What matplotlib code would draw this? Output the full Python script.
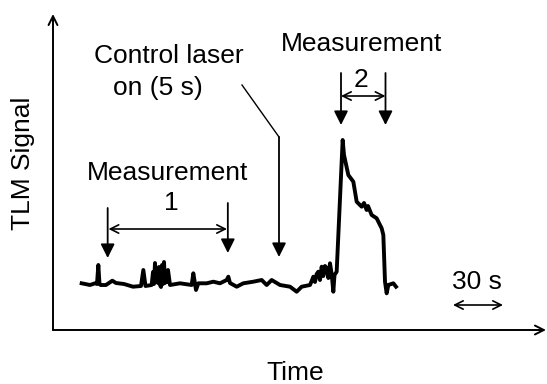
import matplotlib
matplotlib.use("Agg")
import matplotlib.pyplot as plt

plt.rcParams["font.family"] = ["Liberation Sans", "DejaVu Sans"]

# trace: tiempo (s) y señal TLM (unidades arbitrarias)
tiempo = [17.2, 22.2, 25.2, 26.4, 27.2, 27.9, 28.6, 31.8, 35.6, 37.8, 42.6, 48.0,
          52.8, 54.2, 55.5, 59.2, 60.0, 60.6, 61.2, 61.8, 62.4, 63.0, 63.6, 64.2, 64.8,
          65.4, 66.0, 66.6, 67.2, 67.8, 68.4,
          69.0, 70.2, 76.2, 83.2, 84.2, 85.8, 87.2, 92.2, 96.2, 100.2, 104.2, 105.2,
          106.2, 110.2, 114.2, 120.2, 125.2, 128.2, 131.2, 136.2, 142.2, 146.2, 149.2,
          154.2, 155.2, 156.2, 157.2, 158.2, 159.2, 160.2, 161.2, 162.2, 163.2, 164.2,
          165.2, 166.2, 167.2, 168.2, 168.9, 170.2, 173.8, 174.6, 177.2, 180.2, 182.2,
          185.2, 186.6, 188.2, 189.0, 191.2, 194.2, 197.2, 198.2, 199.2, 200.2, 201.2,
          204.2, 205.8]
senal = [4.67, 4.5, 4.67, 4.6, 6.5, 4.6, 4.5, 4.5, 4.93, 4.7, 4.6, 4.33,
         4.4, 6.0, 4.4, 4.5, 5.8, 4.6, 6.7, 4.8, 5.2, 4.7, 6.3, 4.5, 4.3,
         6.5, 4.6, 6.8, 4.7, 5.5, 4.8,
         6.0, 4.5, 4.67, 4.5, 5.67, 4.0, 4.67, 4.67, 4.83, 4.67, 5.0, 5.33,
         4.7, 4.33, 4.67, 4.83, 5.0, 4.5, 5.0, 4.5, 4.33, 3.83, 4.33,
         4.5, 4.9, 5.33, 4.8, 5.6, 5.83, 5.0, 6.33, 5.4, 6.4, 6.17,
         5.2, 6.67, 5.6, 3.83, 5.5, 5.83, 19.0, 17.5, 15.5, 14.83, 12.83,
         12.33, 12.7, 12.0, 12.4, 11.5, 11.17, 10.17, 9.5, 4.83, 3.67, 4.5,
         4.67, 4.33]

medicion1 = [32.8, 104.9]
medicion2 = [172.8, 199.5]
laser_on = 135.6
escala = [240, 270]

fig = plt.figure(figsize=(5.47, 3.84), dpi=100)
ax = fig.add_axes([0, 0, 1, 1])
ax.set_xlim(-31.8, 296.4)
ax.set_ylim(-5.4, 33)
ax.axis("off")

# ejes con flechas
ax.annotate("", xy=(295.8, 0), xytext=(0, 0),
            arrowprops=dict(arrowstyle="->", lw=1.4, color="black", mutation_scale=16, shrinkA=0, shrinkB=0))
ax.annotate("", xy=(0, 31.6), xytext=(0, 0),
            arrowprops=dict(arrowstyle="->", lw=1.4, color="black", mutation_scale=16, shrinkA=0, shrinkB=0))

ax.plot(tiempo, senal, color="black", lw=2.8, solid_joinstyle="round")

flecha = dict(arrowstyle="-|>", lw=1.3, color="black", mutation_scale=21, shrinkA=0, shrinkB=0)
doble = dict(arrowstyle="<->", lw=1.2, color="black", mutation_scale=15, shrinkA=0, shrinkB=0)

# medicion 1
ax.annotate("", xy=(medicion1[0], 7.2), xytext=(medicion1[0], 12.2), arrowprops=flecha)
ax.annotate("", xy=(medicion1[1], 7.7), xytext=(medicion1[1], 12.7), arrowprops=flecha)
ax.annotate("", xy=(medicion1[1] - 0.5, 10.1), xytext=(medicion1[0] + 0.5, 10.1), arrowprops=doble)
ax.text(69, 15.7, "Measurement", fontsize=19, ha="center", va="center")
ax.text(70.8, 12.7, "1", fontsize=19, ha="center", va="center")

# laser de control
ax.plot([113.4, laser_on], [24.5, 19.3], color="black", lw=1.0)
ax.annotate("", xy=(laser_on, 7.3), xytext=(laser_on, 19.3), arrowprops=flecha)
ax.text(69.6, 27.4, "Control laser", fontsize=19, ha="center", va="center")
ax.text(62.7, 24.2, "on (5 s)", fontsize=19, ha="center", va="center")

# medicion 2
ax.annotate("", xy=(medicion2[0], 20.5), xytext=(medicion2[0], 25.7), arrowprops=flecha)
ax.annotate("", xy=(medicion2[1], 20.5), xytext=(medicion2[1], 25.7), arrowprops=flecha)
ax.annotate("", xy=(medicion2[1], 23.4), xytext=(medicion2[0], 23.4), arrowprops=doble)
ax.text(185.4, 28.6, "Measurement", fontsize=19, ha="center", va="center")
ax.text(184.8, 25.0, "2", fontsize=19, ha="center", va="center")

# barra de escala
ax.annotate("", xy=(escala[1], 2.5), xytext=(escala[0], 2.5), arrowprops=doble)
ax.text(254.4, 4.8, "30 s", fontsize=19, ha="center", va="center")

ax.text(145.2, -4.3, "Time", fontsize=19, ha="center", va="center")
ax.text(-18, 16.7, "TLM Signal", fontsize=19, ha="center", va="center", rotation=90)

fig.savefig("out.png", dpi=100)
